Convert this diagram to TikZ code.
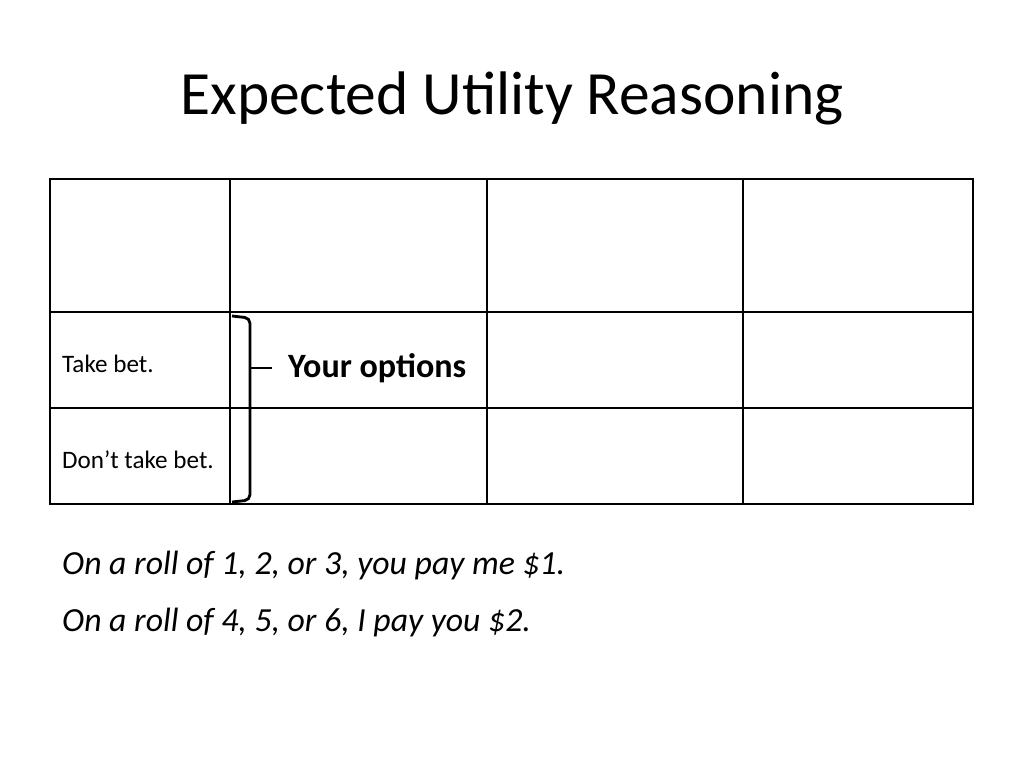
\documentclass[tikz,border=0pt]{standalone}
\usepackage{fontspec}
\setmainfont{Carlito}
\usetikzlibrary{positioning}
\tikzset{
  cell/.style={anchor=west, font=\fontsize{14.3}{17}\selectfont},
  note/.style={anchor=west, font=\fontsize{19.2}{23}\selectfont\itshape},
  grid line/.style={line width=0.8pt}
}
\begin{document}
\begin{tikzpicture}[x=0.02cm, y=-0.02cm]
    % Background
    \fill[white] (0,0) rectangle (1024,768);

    % Title
    \node (title) [font=\fontsize{35}{42}\selectfont] at (512, 98) {Expected Utility Reasoning};

    % Table grid
    \draw[grid line] (50,179) rectangle (973,504);
    \foreach \x in {230,487,743} \draw[grid line] (\x,179) -- (\x,504);
    \foreach \y in {312,408} \draw[grid line] (50,\y) -- (973,\y);

    % Row labels
    \node (take) [cell] at (56, 364) {Take bet.};
    \node (dont) [cell] at (56, 460) {Don’t take bet.};

    % Brace
    \draw[line width=1.6pt, rounded corners=3pt] (232,316) -- (250,318) -- (250,500) -- (232,502);
    \coordinate (tip) at (272,368);
    \draw[line width=1.6pt] (250,368) -- (tip);
    \node (opts) [anchor=west, font=\fontsize{19.4}{23}\selectfont\bfseries] at (282, 368) {Your options};

    % Bet description
    \node (roll1) [note] at (56, 565) {On a roll of 1, 2, or 3, you pay me \$1.};
    \node (roll2) [note] at (56, 622) {On a roll of 4, 5, or 6, I pay you \$2.};
\end{tikzpicture}
\end{document}
